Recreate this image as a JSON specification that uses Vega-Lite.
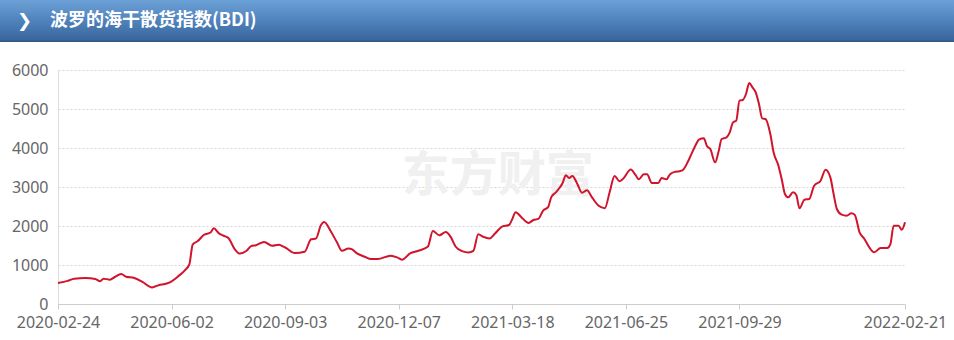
{
  "$schema": "https://vega.github.io/schema/vega-lite/v6.json",
  "padding": {"left": 0, "top": 0, "right": 0, "bottom": 8},
  "spacing": 20,
  "background": "white",
  "config": {"view": {"stroke": null}},
  "vconcat": [
    {
      "width": 954,
      "height": 42,
      "view": {"stroke": null},
      "data": {"values": [{"arrow": "❯", "heading": "波罗的海干散货指数(BDI)"}]},
      "encoding": {"x": {"datum": 0, "type": "quantitative", "scale": {"domain": [0, 1]}, "axis": null}},
      "layer": [
        {
          "mark": {"type": "rect", "fill": {"gradient": "linear", "x1": 0, "y1": 0, "x2": 0, "y2": 1, "stops": [{"offset": 0, "color": "#6ca1d7"}, {"offset": 0.5, "color": "#4f82bb"}, {"offset": 0.94, "color": "#3a679d"}, {"offset": 1, "color": "#2c5684"}]}},
          "encoding": {"x": null}
        },
        {
          "mark": {"type": "text", "align": "left", "baseline": "middle", "dx": 17, "dy": 1, "color": "white", "font": "DejaVu Sans", "fontSize": 18, "fontWeight": "bold"},
          "encoding": {"text": {"field": "arrow"}}
        },
        {
          "mark": {"type": "text", "align": "left", "baseline": "middle", "dx": 50, "color": "white", "font": "Noto Sans CJK SC", "fontSize": 18, "fontWeight": "bold"},
          "encoding": {"text": {"field": "heading"}}
        }
      ]
    },
    {
      "width": 905,
      "height": 234,
      "resolve": {"axis": {"x": "independent", "y": "independent"}},
      "layer": [
        {
          "data": {"values": [{"wm": "东方财富"}]},
          "mark": {"type": "text", "align": "center", "baseline": "middle", "color": "#f0f0f0", "font": "Noto Sans CJK SC", "fontSize": 48, "fontWeight": "bold"},
          "encoding": {
            "x": {"datum": 271, "type": "quantitative", "axis": null},
            "y": {"datum": 3250, "type": "quantitative", "axis": null},
            "text": {"field": "wm"}
          }
        },
        {
          "data": {"values": [
            {"day":0,"bdi":540},{"day":6,"bdi":592},{"day":10,"bdi":650},{"day":17,"bdi":667},{"day":23,"bdi":642},{"day":26,"bdi":583},{"day":28,"bdi":650},{"day":32,"bdi":625},{"day":35,"bdi":692},{"day":39,"bdi":767},{"day":42,"bdi":700},{"day":47,"bdi":667},{"day":52,"bdi":567},{"day":58,"bdi":425},{"day":62,"bdi":483},{"day":67,"bdi":525},{"day":70,"bdi":583},{"day":74,"bdi":708},{"day":78,"bdi":858},{"day":81,"bdi":1025},{"day":83,"bdi":1525},{"day":86,"bdi":1608},{"day":90,"bdi":1775},{"day":94,"bdi":1833},{"day":96,"bdi":1942},{"day":99,"bdi":1817},{"day":102,"bdi":1750},{"day":105,"bdi":1692},{"day":109,"bdi":1400},{"day":112,"bdi":1292},{"day":116,"bdi":1358},{"day":119,"bdi":1483},{"day":122,"bdi":1508},{"day":127,"bdi":1592},{"day":132,"bdi":1492},{"day":136,"bdi":1517},{"day":140,"bdi":1449},{"day":146,"bdi":1305},{"day":152,"bdi":1339},{"day":156,"bdi":1661},{"day":159,"bdi":1678},{"day":162,"bdi":2017},{"day":164,"bdi":2102},{"day":168,"bdi":1873},{"day":172,"bdi":1576},{"day":175,"bdi":1364},{"day":179,"bdi":1424},{"day":181,"bdi":1407},{"day":184,"bdi":1305},{"day":189,"bdi":1212},{"day":193,"bdi":1153},{"day":197,"bdi":1153},{"day":205,"bdi":1237},{"day":209,"bdi":1195},{"day":212,"bdi":1136},{"day":217,"bdi":1297},{"day":222,"bdi":1364},{"day":228,"bdi":1475},{"day":231,"bdi":1873},{"day":235,"bdi":1763},{"day":239,"bdi":1847},{"day":242,"bdi":1720},{"day":245,"bdi":1475},{"day":249,"bdi":1356},{"day":253,"bdi":1322},{"day":256,"bdi":1364},{"day":259,"bdi":1788},{"day":262,"bdi":1724},{"day":266,"bdi":1681},{"day":269,"bdi":1793},{"day":274,"bdi":1991},{"day":278,"bdi":2026},{"day":280,"bdi":2181},{"day":282,"bdi":2353},{"day":286,"bdi":2207},{"day":290,"bdi":2078},{"day":293,"bdi":2155},{"day":296,"bdi":2181},{"day":299,"bdi":2397},{"day":302,"bdi":2483},{"day":304,"bdi":2741},{"day":307,"bdi":2871},{"day":311,"bdi":3103},{"day":313,"bdi":3302},{"day":315,"bdi":3233},{"day":317,"bdi":3284},{"day":320,"bdi":3086},{"day":323,"bdi":2853},{"day":326,"bdi":2914},{"day":329,"bdi":2741},{"day":333,"bdi":2526},{"day":337,"bdi":2457},{"day":340,"bdi":2871},{"day":343,"bdi":3284},{"day":346,"bdi":3147},{"day":348,"bdi":3198},{"day":353,"bdi":3448},{"day":356,"bdi":3302},{"day":358,"bdi":3198},{"day":361,"bdi":3328},{"day":363,"bdi":3328},{"day":366,"bdi":3103},{"day":370,"bdi":3103},{"day":372,"bdi":3233},{"day":375,"bdi":3198},{"day":377,"bdi":3319},{"day":380,"bdi":3388},{"day":383,"bdi":3405},{"day":385,"bdi":3431},{"day":389,"bdi":3720},{"day":393,"bdi":4077},{"day":395,"bdi":4214},{"day":398,"bdi":4248},{"day":400,"bdi":4043},{"day":402,"bdi":3974},{"day":405,"bdi":3632},{"day":407,"bdi":3889},{"day":409,"bdi":4231},{"day":412,"bdi":4274},{"day":414,"bdi":4402},{"day":416,"bdi":4658},{"day":418,"bdi":4701},{"day":420,"bdi":5214},{"day":422,"bdi":5231},{"day":424,"bdi":5385},{"day":426,"bdi":5667},{"day":428,"bdi":5556},{"day":430,"bdi":5427},{"day":432,"bdi":5128},{"day":434,"bdi":4761},{"day":436,"bdi":4744},{"day":439,"bdi":4359},{"day":441,"bdi":3889},{"day":444,"bdi":3547},{"day":446,"bdi":3205},{"day":448,"bdi":2821},{"day":450,"bdi":2735},{"day":453,"bdi":2863},{"day":455,"bdi":2795},{"day":457,"bdi":2453},{"day":460,"bdi":2675},{"day":463,"bdi":2692},{"day":466,"bdi":3034},{"day":470,"bdi":3162},{"day":473,"bdi":3444},{"day":476,"bdi":3248},{"day":478,"bdi":2821},{"day":480,"bdi":2436},{"day":483,"bdi":2291},{"day":486,"bdi":2265},{"day":489,"bdi":2325},{"day":491,"bdi":2291},{"day":494,"bdi":1838},{"day":497,"bdi":1667},{"day":500,"bdi":1453},{"day":503,"bdi":1325},{"day":507,"bdi":1436},{"day":511,"bdi":1436},{"day":513,"bdi":1538},{"day":515,"bdi":2009},{"day":518,"bdi":2009},{"day":520,"bdi":1906},{"day":522,"bdi":2094}
          ]},
          "mark": {"type": "line", "color": "#d0142c", "strokeWidth": 2, "interpolate": "monotone"},
          "encoding": {
            "x": {"field": "day", "type": "quantitative", "scale": {"domain": [0, 522], "range": [58, 905], "nice": false, "zero": false},
              "axis": {"title": null, "values": [0, 70, 140, 210, 280, 350, 420, 522], "labelExpr": "datum.value==0?'2020-02-24':datum.value==70?'2020-06-02':datum.value==140?'2020-09-03':datum.value==210?'2020-12-07':datum.value==280?'2021-03-18':datum.value==350?'2021-06-25':datum.value==420?'2021-09-29':'2022-02-21'", "grid": false, "domainColor": "#cccccc", "tickColor": "#cccccc", "tickSize": 5, "labelFont": "Noto Sans", "labelFontSize": 16, "labelColor": "#666666", "labelPadding": 5, "labelOverlap": false, "labelFlush": false, "zindex": 1}},
            "y": {"field": "bdi", "type": "quantitative", "scale": {"domain": [0, 6000], "nice": false},
              "axis": {"title": null, "values": [0, 1000, 2000, 3000, 4000, 5000, 6000], "format": "d", "offset": -58, "grid": true, "gridColor": "#d6d6d6", "gridDash": [2, 2], "domainColor": "#dddddd", "ticks": false, "labelPadding": 10, "labelOverlap": false, "labelFont": "Noto Sans", "labelFontSize": 16, "labelColor": "#666666"}}
          }
        }
      ]
    }
  ]
}
